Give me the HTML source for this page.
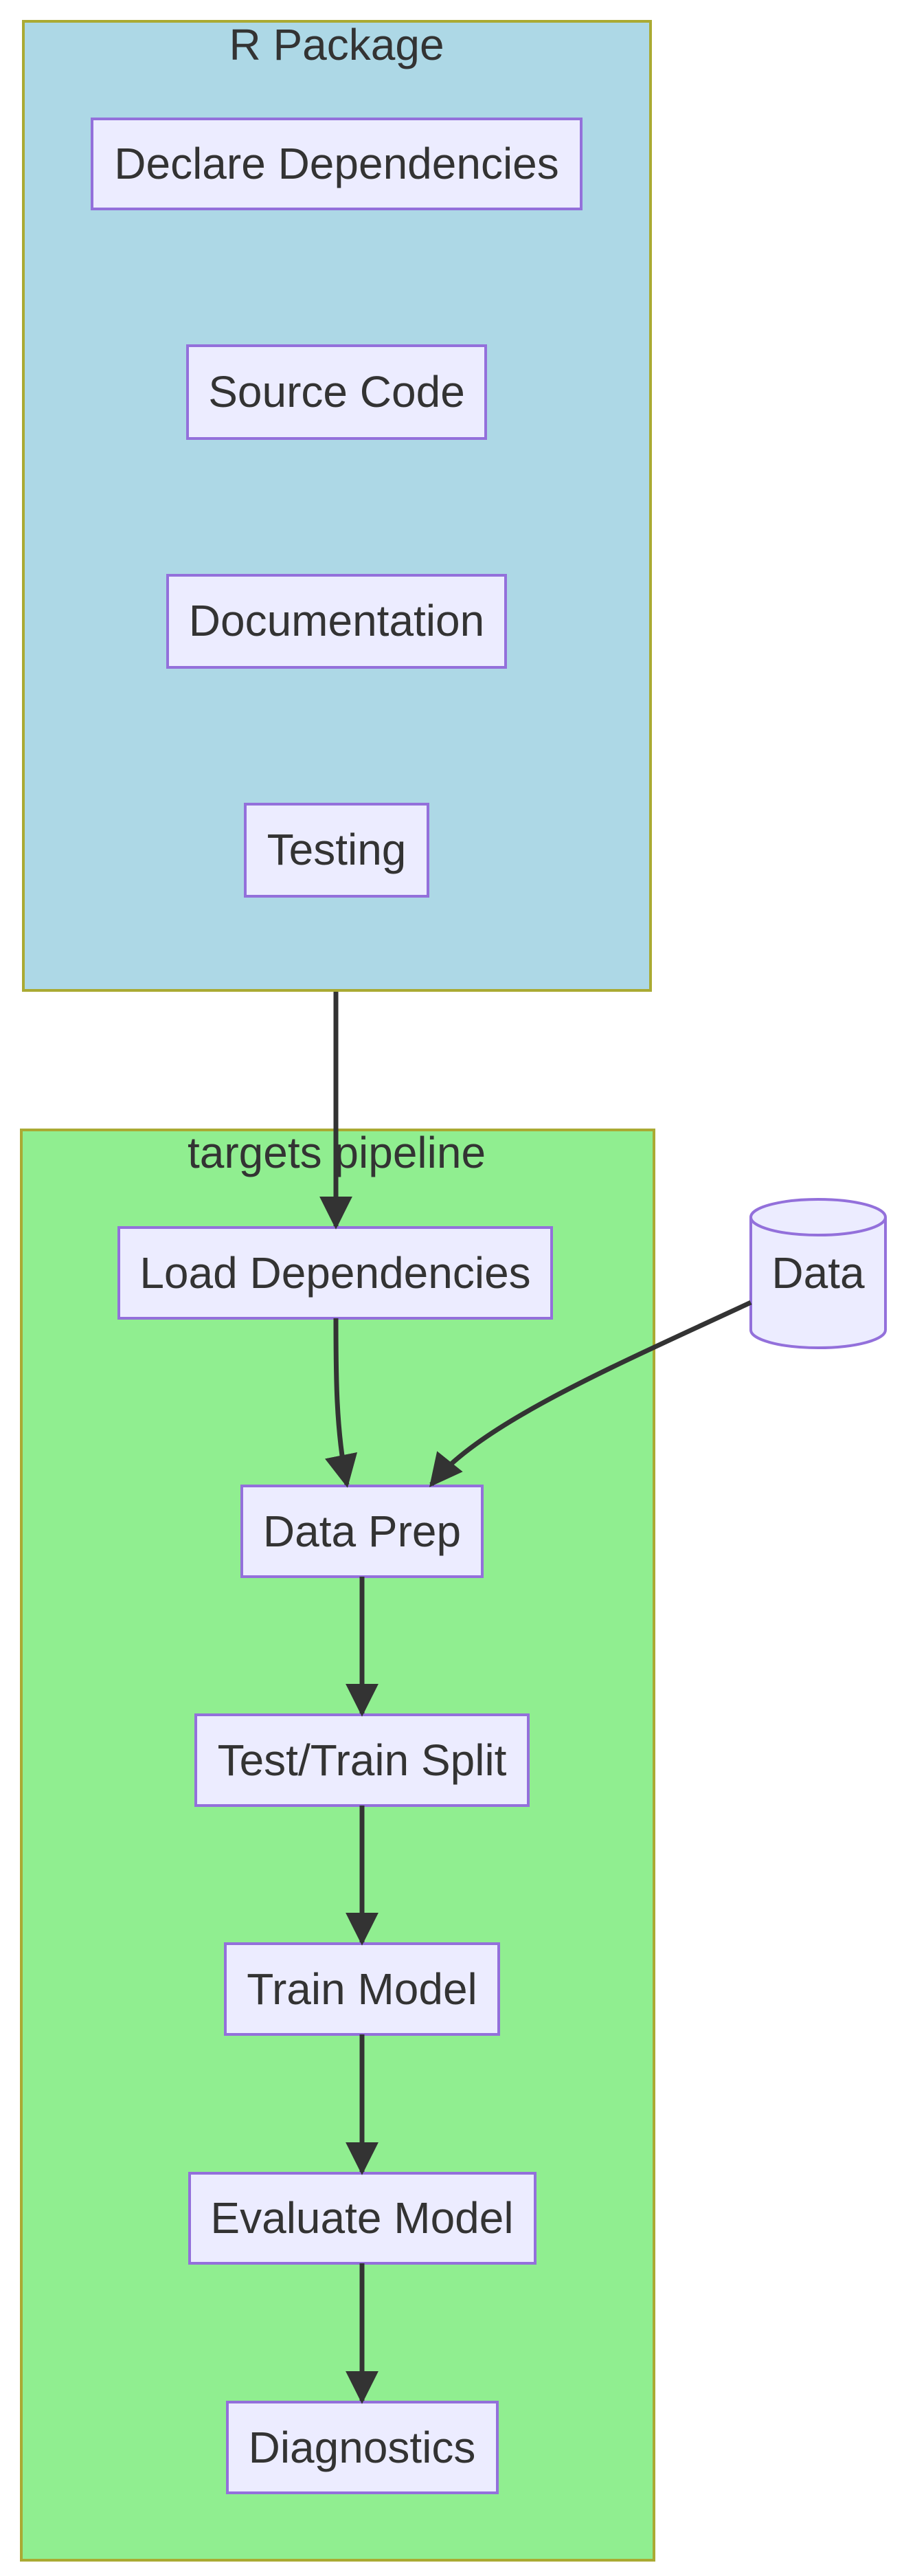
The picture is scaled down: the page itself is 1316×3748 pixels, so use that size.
<!DOCTYPE html>
<html><head><meta charset="utf-8"><style>
html,body{margin:0;padding:0;background:#fff;}
svg{display:block;}
text{font-family:"Liberation Sans",Arial,sans-serif;fill:#333;}
</style></head><body>
<svg width="1316" height="3748" viewBox="0 0 1316 3748" xmlns="http://www.w3.org/2000/svg">
<defs>
<marker id="ah" viewBox="0 0 10 10" refX="9" refY="5" markerUnits="userSpaceOnUse" markerWidth="48" markerHeight="48" orient="auto">
<path d="M0,0 L10,5 L0,10 z" fill="#333"/>
</marker>
</defs>
<rect x="34" y="31" width="913" height="1410" fill="#add8e6" stroke="#aaaa33" stroke-width="4"/>
<text x="490" y="87" font-size="64" text-anchor="middle">R Package</text>
<rect x="31" y="1644" width="921" height="2081" fill="#90ee90" stroke="#aaaa33" stroke-width="4"/>
<text x="490" y="1699" font-size="64" text-anchor="middle">targets pipeline</text>

<g fill="#ececff" stroke="#9370db" stroke-width="4">
<rect x="134" y="173" width="712" height="131"/>
<rect x="273" y="503" width="434" height="135"/>
<rect x="244" y="837" width="492" height="134"/>
<rect x="357" y="1170" width="266" height="134"/>
<rect x="173" y="1786" width="630" height="132"/>
<rect x="352" y="2162" width="350" height="132"/>
<rect x="285" y="2495" width="484" height="132"/>
<rect x="328" y="2828" width="398" height="132"/>
<rect x="276" y="3162" width="503" height="131"/>
<rect x="331" y="3495" width="393" height="132"/>
<path d="M1093,1771 L1093,1935 A98,26 0 0 0 1289,1935 L1289,1771 A98,26 0 0 0 1093,1771 A98,26 0 0 0 1289,1771"/>
</g>

<g font-size="64" text-anchor="middle">
<text x="490" y="260">Declare Dependencies</text>
<text x="490" y="592">Source Code</text>
<text x="490" y="925">Documentation</text>
<text x="490" y="1258">Testing</text>
<text x="488" y="1874">Load Dependencies</text>
<text x="1191" y="1874">Data</text>
<text x="527" y="2250">Data Prep</text>
<text x="527" y="2583">Test/Train Split</text>
<text x="527" y="2916">Train Model</text>
<text x="527" y="3249">Evaluate Model</text>
<text x="527" y="3583">Diagnostics</text>
</g>

<g stroke="#333" stroke-width="7" fill="none" marker-end="url(#ah)">
<path d="M489,1443 L489,1784"/>
<path d="M489,1918 C489,2000 489,2080 505,2160"/>
<path d="M1093,1895 C900,1985 700,2070 628,2160"/>
<path d="M527,2294 L527,2493"/>
<path d="M527,2627 L527,2826"/>
<path d="M527,2960 L527,3160"/>
<path d="M527,3293 L527,3493"/>
</g>
</svg>
</body></html>
